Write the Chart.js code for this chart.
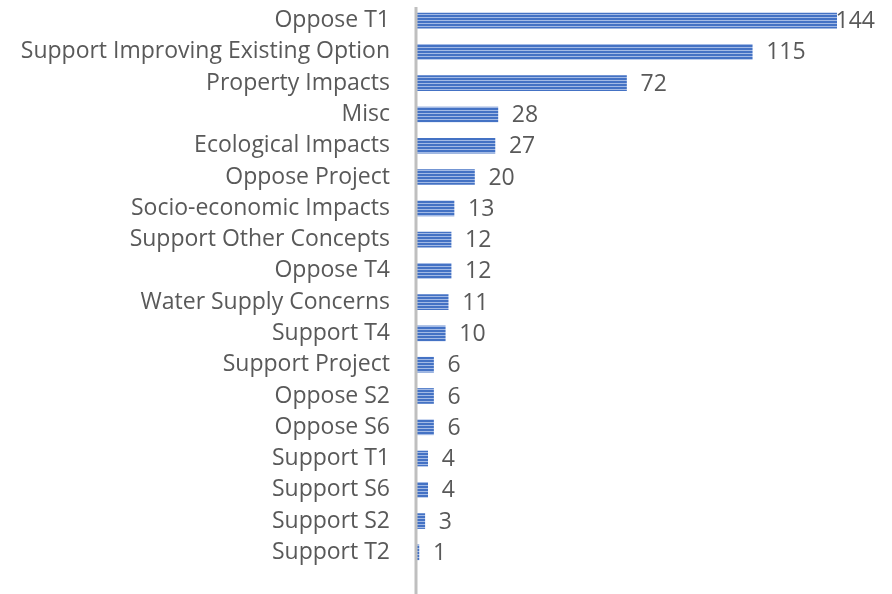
<!DOCTYPE html>
<html>
<head>
<meta charset="utf-8">
<script src="https://cdn.jsdelivr.net/npm/chart.js@4"></script>
<style>
  html, body { margin: 0; padding: 0; background: #fff; }
  canvas { display: block; }
</style>
</head>
<body>
<canvas id="chart" width="892" height="594"></canvas>
<script>
// data
const categories = [
  'Oppose T1', 'Support Improving Existing Option', 'Property Impacts', 'Misc',
  'Ecological Impacts', 'Oppose Project', 'Socio-economic Impacts', 'Support Other Concepts',
  'Oppose T4', 'Water Supply Concerns', 'Support T4', 'Support Project',
  'Oppose S2', 'Oppose S6', 'Support T1', 'Support S6', 'Support S2', 'Support T2'
]
const counts = [144, 115, 72, 28, 27, 20, 13, 12, 12, 11, 10, 6, 6, 6, 4, 4, 3, 1]

const textColor = '#595959'
const fontFamily = "'Open Sans', sans-serif"
const fontSize = 23

// striped fill like the original
const makeStripes = () => {
  const c = document.createElement('canvas')
  c.width = 4
  c.height = 3
  const g = c.getContext('2d')
  g.fillStyle = '#a3bae5'
  g.fillRect(0, 0, 4, 3)
  g.fillStyle = '#4472c4'
  g.fillRect(0, 0, 4, 2)
  return g.createPattern(c, 'repeat')
}

// value labels + axis line
const valueLabels = {
  id: 'valueLabels',
  afterDatasetsDraw(chart) {
    const ctx = chart.ctx
    const area = chart.chartArea
    ctx.save()
    // vertical axis line
    ctx.strokeStyle = '#bfbfbf'
    ctx.lineWidth = 3
    ctx.beginPath()
    ctx.moveTo(area.left, 7)
    ctx.lineTo(area.left, chart.height)
    ctx.stroke()

    ctx.font = `${fontSize}px ${fontFamily}`
    ctx.fillStyle = textColor
    ctx.textBaseline = 'middle'
    ctx.textAlign = 'left'
    const meta = chart.getDatasetMeta(0)
    meta.data.forEach((bar, i) => {
      const txt = String(counts[i])
      const w = ctx.measureText(txt).width
      let x = bar.x + 14
      if (x + w > 875) x = 875 - w
      ctx.fillText(txt, x, bar.y + 1)
    })
    ctx.restore()
  }
}

const chart = new Chart(document.getElementById('chart'), {
  type: 'bar',
  data: {
    labels: categories,
    datasets: [{
      data: counts,
      backgroundColor: makeStripes(),
      borderWidth: 0,
      barThickness: 15,
    }]
  },
  options: {
    indexAxis: 'y',
    responsive: false,
    animation: false,
    layout: { padding: { top: 5, bottom: 26, right: 55, left: 0 } },
    plugins: {
      legend: { display: false },
      tooltip: { enabled: false },
    },
    scales: {
      x: {
        display: false,
        min: 0,
        max: 144,
      },
      y: {
        afterFit: (scale) => {
          scale.width = 416
          scale.paddingTop = 0
          scale.paddingBottom = 0
        },
        grid: { display: false, drawTicks: false },
        border: { display: false },
        ticks: {
          padding: 26,
          color: textColor,
          font: { family: fontFamily, size: fontSize },
        },
      },
    },
  },
  plugins: [valueLabels],
})
</script>
</body>
</html>
